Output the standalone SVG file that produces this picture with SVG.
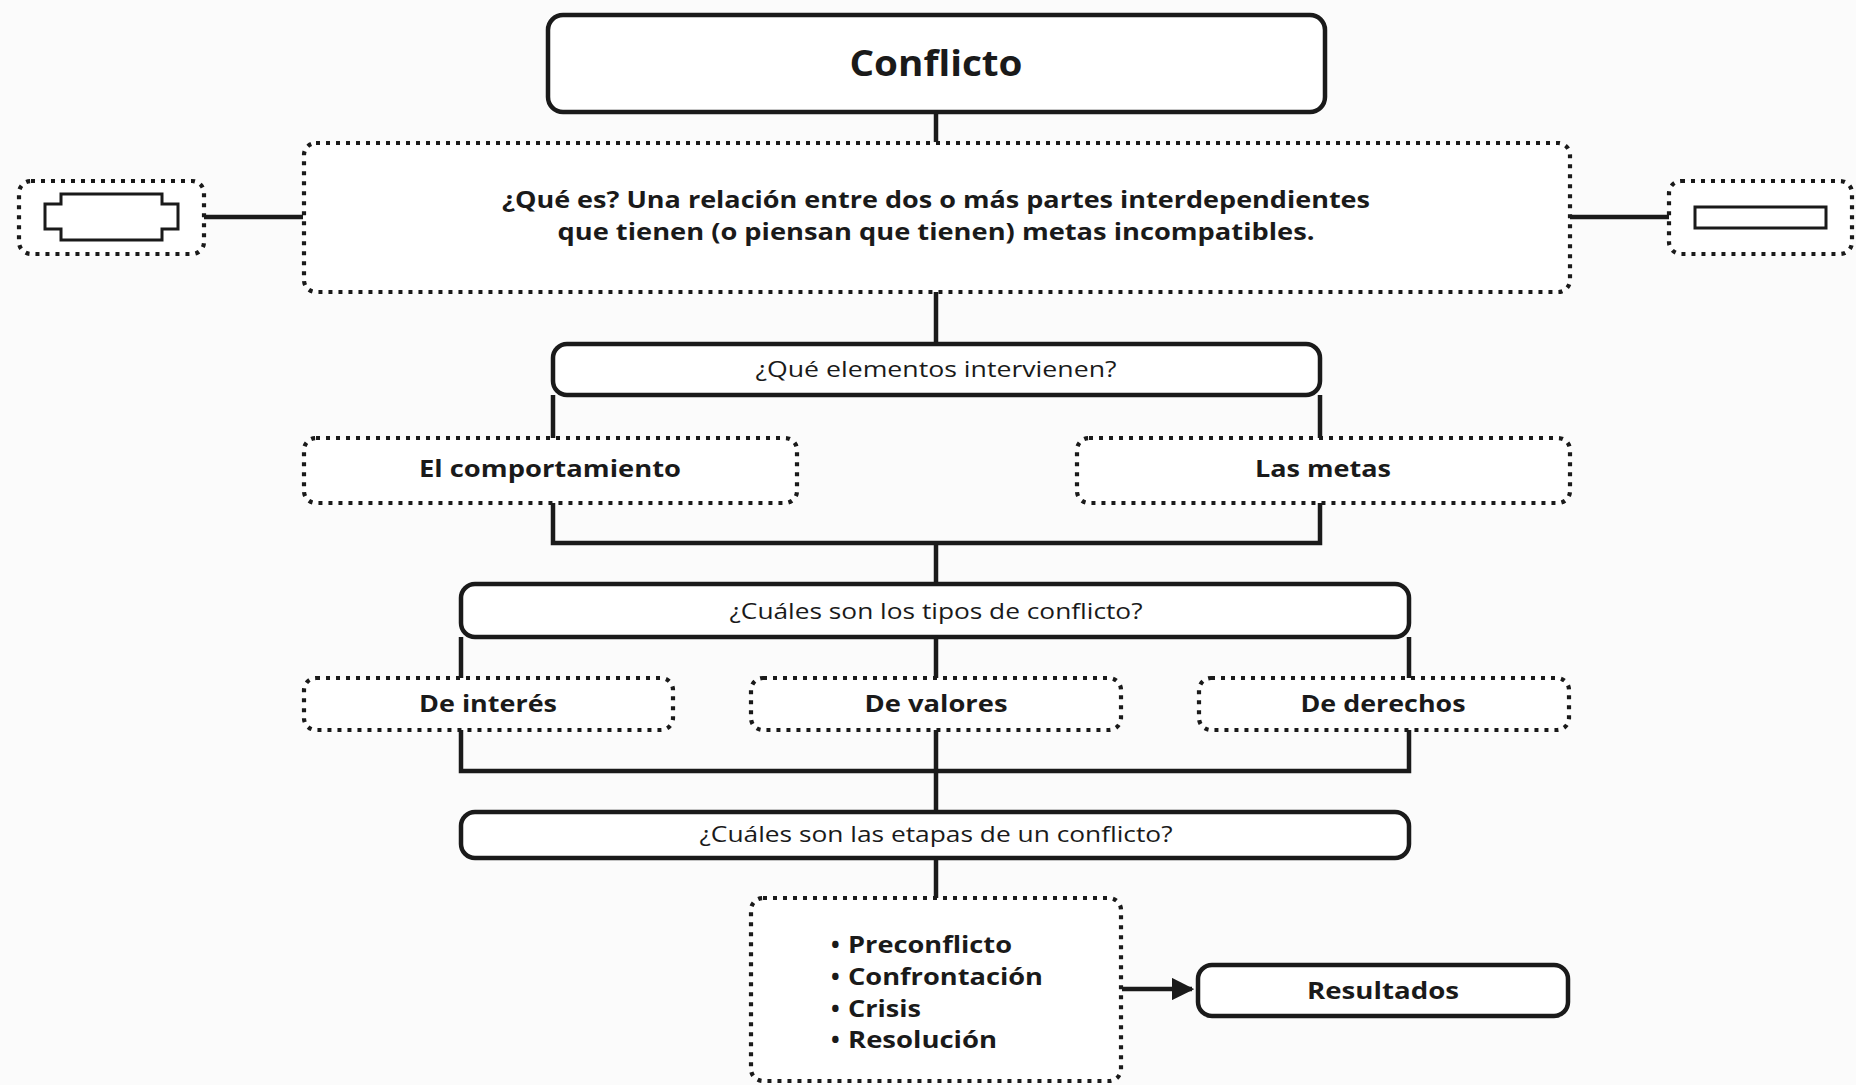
<svg xmlns="http://www.w3.org/2000/svg" width="1856" height="1085" viewBox="0 0 1856 1085">
<defs>
<style>
.solid{fill:#fff;stroke:#1a1a1a;stroke-width:4.5}
.dot{fill:#fff;stroke:#1a1a1a;stroke-width:4.2;stroke-dasharray:4 6}
.ln{fill:none;stroke:#1a1a1a;stroke-width:4.5}
.b{font-family:"Open Sans","Noto Sans",sans-serif;font-weight:700;fill:#1a1a1a;text-anchor:middle}
.r{font-family:"Open Sans","Noto Sans",sans-serif;font-weight:400;fill:#1a1a1a;text-anchor:middle}
.bl{font-family:"Open Sans","Noto Sans",sans-serif;font-weight:700;fill:#1a1a1a}
</style>
<marker id="arr" viewBox="0 0 10 10" refX="9" refY="5" markerWidth="5" markerHeight="5" orient="auto" markerUnits="strokeWidth">
<path d="M0,0 L10,5 L0,10 z" fill="#1a1a1a"/>
</marker>
</defs>
<rect x="0" y="0" width="1856" height="1085" fill="#fbfbfb"/>
<g id="connectors">
<line class="ln" x1="936" y1="112" x2="936" y2="142"/>
<line class="ln" x1="936" y1="292" x2="936" y2="344"/>
<line class="ln" x1="204" y1="217" x2="303" y2="217"/>
<line class="ln" x1="1570" y1="217" x2="1669" y2="217"/>
<path class="ln" d="M553 395 V543 H1320 V395"/>
<line class="ln" x1="936" y1="543" x2="936" y2="584"/>
<path class="ln" d="M461 637 V771 H1409 V637"/>
<line class="ln" x1="936" y1="637" x2="936" y2="812"/>
<line class="ln" x1="936" y1="858" x2="936" y2="898"/>
<line class="ln" x1="1122" y1="989" x2="1192" y2="989" marker-end="url(#arr)"/>
</g>
<g id="n-conflicto">
<rect class="solid" x="548" y="15" width="777" height="97" rx="15"/>
<text class="b" x="936" y="76" font-size="36" textLength="173" lengthAdjust="spacingAndGlyphs">Conflicto</text>
</g>
<g id="n-definicion">
<rect class="dot" x="304" y="143" width="1266" height="149" rx="12"/>
<text class="b" x="936" y="208" font-size="23" textLength="868" lengthAdjust="spacingAndGlyphs">¿Qué es? Una relación entre dos o más partes interdependientes</text>
<text class="b" x="936" y="240" font-size="23" textLength="757" lengthAdjust="spacingAndGlyphs">que tienen (o piensan que tienen) metas incompatibles.</text>
</g>
<g id="n-izq">
<rect class="dot" x="19" y="181" width="185" height="73" rx="12"/>
<path d="M61 194 H162 V204 H178 V229 H162 V240 H61 V229 H45 V204 H61 Z" fill="#fff" stroke="#1a1a1a" stroke-width="3"/>
</g>
<g id="n-der">
<rect class="dot" x="1669" y="181" width="183" height="73" rx="12"/>
<rect x="1695" y="207" width="131" height="21" fill="#fff" stroke="#1a1a1a" stroke-width="3"/>
</g>
<g id="n-elementos">
<rect class="solid" x="553" y="344" width="767" height="51" rx="14"/>
<text class="r" x="936" y="377" font-size="22" textLength="361" lengthAdjust="spacingAndGlyphs">¿Qué elementos intervienen?</text>
</g>
<g id="n-comportamiento">
<rect class="dot" x="304" y="438" width="493" height="65" rx="12"/>
<text class="b" x="550" y="477" font-size="23" textLength="262" lengthAdjust="spacingAndGlyphs">El comportamiento</text>
</g>
<g id="n-metas">
<rect class="dot" x="1077" y="438" width="493" height="65" rx="12"/>
<text class="b" x="1323" y="477" font-size="23" textLength="136" lengthAdjust="spacingAndGlyphs">Las metas</text>
</g>
<g id="n-tipos">
<rect class="solid" x="461" y="584" width="948" height="53" rx="14"/>
<text class="r" x="936" y="619" font-size="22" textLength="413" lengthAdjust="spacingAndGlyphs">¿Cuáles son los tipos de conflicto?</text>
</g>
<g id="n-interes">
<rect class="dot" x="304" y="678" width="369" height="52" rx="12"/>
<text class="b" x="488" y="712" font-size="23" textLength="138" lengthAdjust="spacingAndGlyphs">De interés</text>
</g>
<g id="n-valores">
<rect class="dot" x="751" y="678" width="370" height="52" rx="12"/>
<text class="b" x="936" y="712" font-size="23" textLength="143" lengthAdjust="spacingAndGlyphs">De valores</text>
</g>
<g id="n-derechos">
<rect class="dot" x="1199" y="678" width="370" height="52" rx="12"/>
<text class="b" x="1383" y="712" font-size="23" textLength="165" lengthAdjust="spacingAndGlyphs">De derechos</text>
</g>
<g id="n-etapas">
<rect class="solid" x="461" y="812" width="948" height="46" rx="14"/>
<text class="r" x="936" y="842" font-size="22" textLength="473" lengthAdjust="spacingAndGlyphs">¿Cuáles son las etapas de un conflicto?</text>
</g>
<g id="n-lista">
<rect class="dot" x="751" y="898" width="370" height="183" rx="12"/>
<text class="bl" font-size="23"><tspan x="831" y="953">•</tspan><tspan x="848" y="953" textLength="164" lengthAdjust="spacingAndGlyphs">Preconflicto</tspan></text>
<text class="bl" font-size="23"><tspan x="831" y="985">•</tspan><tspan x="848" y="985" textLength="195" lengthAdjust="spacingAndGlyphs">Confrontación</tspan></text>
<text class="bl" font-size="23"><tspan x="831" y="1017">•</tspan><tspan x="848" y="1017" textLength="73" lengthAdjust="spacingAndGlyphs">Crisis</tspan></text>
<text class="bl" font-size="23"><tspan x="831" y="1048">•</tspan><tspan x="848" y="1048" textLength="149" lengthAdjust="spacingAndGlyphs">Resolución</tspan></text>
</g>
<g id="n-resultados">
<rect class="solid" x="1198" y="965" width="370" height="51" rx="14"/>
<text class="b" x="1383" y="999" font-size="23" textLength="152" lengthAdjust="spacingAndGlyphs">Resultados</text>
</g>
</svg>
